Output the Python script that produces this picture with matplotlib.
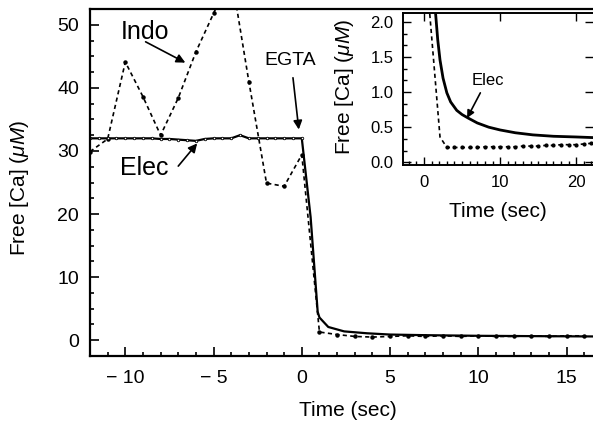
import numpy as np
import matplotlib
matplotlib.use("Agg")
import matplotlib.pyplot as plt
from matplotlib.ticker import MultipleLocator, FormatStrFormatter

plt.rcParams['font.family'] = ['Liberation Sans', 'DejaVu Sans']
plt.rcParams['mathtext.fontset'] = 'custom'
plt.rcParams['mathtext.it'] = 'Liberation Sans:italic'
plt.rcParams['mathtext.rm'] = 'Liberation Sans'

# Main panel: electrode trace (solid)
elec_t = [-12, -11.5, -11, -10.5, -10, -9.5, -9, -8.5, -8, -7.5, -7, -6.5, -6,
          -5.5, -5, -4.5, -4, -3.5, -3, -2.5, -2, -1.5, -1, -0.5, 0,
          0.5, 0.9, 1.0, 1.5, 2.4, 3.7, 5, 7, 10, 13, 16.5]
elec_ca = [32.0, 32.0, 32.0, 32.0, 32.0, 32.0, 32.0, 32.0, 31.9, 31.9, 31.8, 31.7, 31.6,
           31.9, 32.0, 32.0, 32.0, 32.5, 32.0, 32.0, 32.0, 32.0, 32.0, 32.0, 32.0,
           19.5, 4.5, 3.6, 2.1, 1.4, 1.1, 0.9, 0.8, 0.7, 0.65, 0.6]

# Main panel: indo-1 trace (dashed)
indo_t = [-12, -11, -10, -9, -8, -7, -6, -5, -4, -3, -2, -1, 0,
          1, 2, 3, 4, 5, 6, 7, 8, 9, 10, 11, 12, 13, 14, 15, 16]
indo_ca = [29.9, 31.9, 44.1, 38.6, 32.5, 38.4, 45.7, 51.8, 58.0, 41.0, 24.9, 24.4, 29.4,
           1.3, 0.9, 0.6, 0.5, 0.6, 0.7, 0.6, 0.7, 0.6, 0.7, 0.6, 0.6, 0.7, 0.6, 0.7, 0.7]

# Inset traces
ins_elec_t = [1.0, 1.5, 1.8, 2.1, 2.5, 3.0, 3.5, 4.3, 5.0, 5.8, 7.0, 8.5, 10, 12, 14.3, 17, 20, 22.5]
ins_elec_ca = [3.5, 2.15, 1.75, 1.46, 1.2, 0.99, 0.86, 0.74, 0.68, 0.63, 0.56, 0.5,
               0.46, 0.42, 0.39, 0.37, 0.36, 0.35]
ins_indo_t = [0, 2.1, 3, 4, 5, 6, 7, 8, 9, 10, 11, 12, 13, 14, 15, 16, 17, 18, 19, 20, 21, 22]
ins_indo_ca = [3.1, 0.36, 0.21, 0.21, 0.21, 0.21, 0.21, 0.22, 0.22, 0.22, 0.22, 0.22,
               0.23, 0.23, 0.23, 0.24, 0.24, 0.25, 0.25, 0.25, 0.26, 0.27]

ylab = r'Free [Ca] ($\mu M$)'

fig = plt.figure(figsize=(5.93, 4.21), dpi=100)
ax = fig.add_axes([0.1518, 0.1544, 0.8482, 0.8242])

ax.plot(indo_t, indo_ca, color='black', lw=1.2, ls=(0, (2.5, 2)),
        marker='o', ms=2.2, mfc='black', mec='black')
ax.plot(elec_t, elec_ca, color='black', lw=1.6,
        marker='o', ms=1.8, mfc='white', mec='black', mew=0.6, markevery=slice(0, 25))

ax.set_xlim(-12, 16.5)
ax.set_ylim(-2.5, 52.5)
ax.xaxis.set_major_locator(MultipleLocator(5))
ax.xaxis.set_minor_locator(MultipleLocator(1))
ax.yaxis.set_major_locator(MultipleLocator(10))
ax.yaxis.set_minor_locator(MultipleLocator(2.5))
ax.tick_params(which='both', direction='in', top=False, right=False, labelsize=14, width=1.2)
ax.tick_params(which='major', length=6.5)
ax.tick_params(which='minor', length=3)
ax.tick_params(axis='y', pad=8)
ax.tick_params(axis='x', pad=10)
ax.set_xticks([-10, -5, 0, 5, 10, 15])
ax.set_xticklabels(['\u2212 10', '\u2212 5', '0', '5', '10', '15'])
for s in ['left', 'bottom', 'top']:
    ax.spines[s].set_linewidth(1.6)
ax.spines['right'].set_visible(False)

ax.set_xlabel('Time (sec)', fontsize=15)
ax.xaxis.set_label_coords((348 - 90) / 503, -(401 - 356) / 347)
ax.set_ylabel(ylab, fontsize=15)
ax.yaxis.set_label_coords(-(90 - 31) / 503, (356 - 188) / 347)

arw = dict(arrowstyle='-|>', color='black', lw=1.2, mutation_scale=13, shrinkA=0, shrinkB=0)
ax.text(-8.9, 48.9, 'Indo', fontsize=18, ha='center', va='center')
ax.annotate('', xy=(-6.6, 44.0), xytext=(-8.85, 47.3), arrowprops=arw)
ax.text(-8.9, 27.3, 'Elec', fontsize=18, ha='center', va='center')
ax.annotate('', xy=(-5.93, 31.2), xytext=(-7.0, 27.6), arrowprops=arw)
ax.text(-0.68, 44.3, 'EGTA', fontsize=14, ha='center', va='center')
ax.annotate('', xy=(-0.17, 33.4), xytext=(-0.5, 41.6), arrowprops=arw)

# Inset
ins = fig.add_axes([0.6796, 0.6081, 0.3204, 0.3610])
ins.set_facecolor('white')
ins.plot(ins_indo_t, ins_indo_ca, color='black', lw=1.2, ls=(0, (2.5, 2)),
         marker='o', ms=2.0, mfc='black', mec='black', markevery=slice(2, None))
ins.plot(ins_elec_t, ins_elec_ca, color='black', lw=2.0)
ins.set_xlim(-2.76, 22.2)
ins.set_ylim(-0.04, 2.13)
ins.xaxis.set_major_locator(MultipleLocator(10))
ins.xaxis.set_minor_locator(MultipleLocator(1))
ins.yaxis.set_major_locator(MultipleLocator(0.5))
ins.yaxis.set_minor_locator(MultipleLocator(0.5 / 3))
ins.tick_params(which='both', direction='in', top=True, right=True, labelsize=12, width=1.0)
ins.tick_params(which='minor', top=False, right=False, length=3)
ins.tick_params(which='major', length=5.5)
ins.tick_params(axis='y', pad=7)
ins.tick_params(axis='x', pad=7)
ins.yaxis.set_major_formatter(FormatStrFormatter('%.1f'))
for s in ['left', 'bottom', 'top']:
    ins.spines[s].set_linewidth(1.4)
ins.spines['right'].set_visible(False)
ins.set_xlabel('Time (sec)', fontsize=15)
ins.xaxis.set_label_coords((498 - 403) / 190, -(202 - 165) / 152)
ins.set_ylabel(ylab, fontsize=15)
ins.yaxis.set_label_coords(-(403 - 356) / 190, (165 - 87) / 152)
ins.text(8.4, 1.16, 'Elec', fontsize=12, ha='center', va='center')
ins.annotate('', xy=(5.66, 0.63), xytext=(7.4, 0.99), arrowprops=dict(arw, mutation_scale=11))

fig.savefig('out.png', dpi=100)
